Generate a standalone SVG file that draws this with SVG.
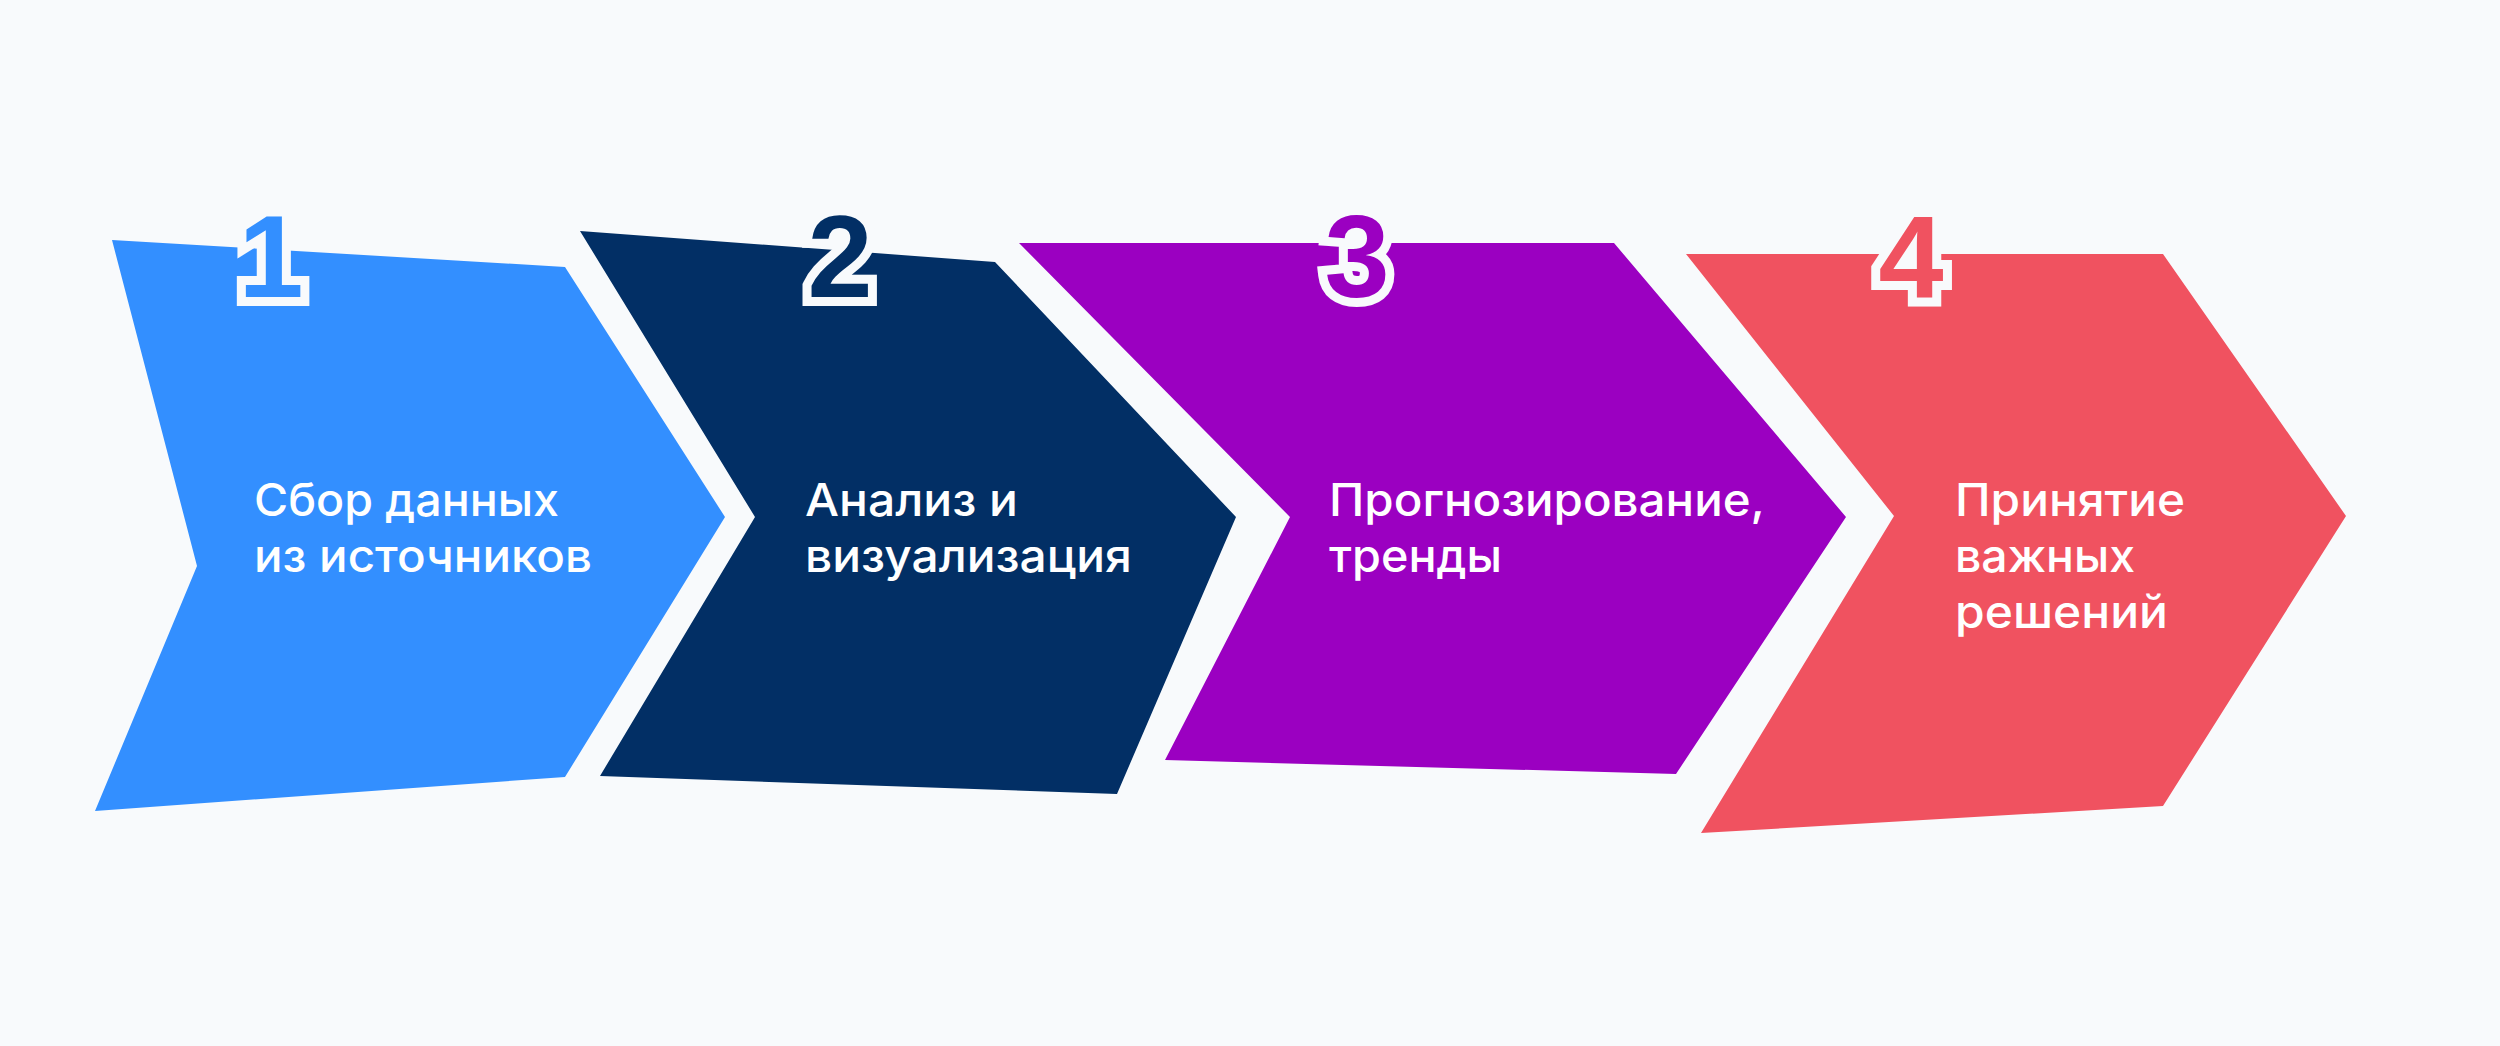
<svg xmlns="http://www.w3.org/2000/svg" width="2500" height="1046" viewBox="0 0 2500 1046">
<style>
.lbl{font-family:"Inter","Open Sans","Liberation Sans",sans-serif;font-weight:500;font-size:45px;fill:#ffffff}
.num{font-family:"Liberation Sans","Arial",sans-serif;font-weight:700;font-size:117px;stroke:#f8fafc;stroke-width:18px;stroke-linejoin:miter;paint-order:stroke;text-anchor:middle}
</style>
<rect x="0" y="0" width="2500" height="1046" fill="#f8fafc"/>
<g id="connectors"></g>
<g id="step1">
<polygon points="112,240 565,267 725,517 565,777 95,811 197,566" fill="#338fff"/>
<text class="num" x="271" y="297" fill="#338fff">1</text>
<text class="lbl" x="254" y="516" textLength="305" lengthAdjust="spacingAndGlyphs">Сбор данных</text>
<text class="lbl" x="254" y="572" textLength="338" lengthAdjust="spacingAndGlyphs">из источников</text>
</g>
<g id="step2">
<polygon points="580,231 995,262 1236,517 1117,794 600,776 755,517" fill="#022f65"/>
<text class="num" x="840" y="297" fill="#022f65">2</text>
<text class="lbl" x="805" y="516" textLength="213" lengthAdjust="spacingAndGlyphs">Анализ и</text>
<text class="lbl" x="805" y="572" textLength="327" lengthAdjust="spacingAndGlyphs">визуализация</text>
</g>
<g id="step3">
<polygon points="1019,243 1614,243 1846,517 1676,774 1165,760 1290,517" fill="#9b00c1"/>
<text class="num" x="1357" y="297" fill="#9b00c1">3</text>
<text class="lbl" x="1329" y="516" textLength="436" lengthAdjust="spacingAndGlyphs">Прогнозирование,</text>
<text class="lbl" x="1329" y="572" textLength="173" lengthAdjust="spacingAndGlyphs">тренды</text>
</g>
<g id="step4">
<polygon points="1686,254 2163,254 2346,516 2163,806 1701,833 1894,516" fill="#f05260"/>
<text class="num" x="1911" y="297" fill="#f05260">4</text>
<text class="lbl" x="1955" y="516" textLength="230" lengthAdjust="spacingAndGlyphs">Принятие</text>
<text class="lbl" x="1955" y="572" textLength="180" lengthAdjust="spacingAndGlyphs">важных</text>
<text class="lbl" x="1955" y="628" textLength="213" lengthAdjust="spacingAndGlyphs">решений</text>
</g>
</svg>
